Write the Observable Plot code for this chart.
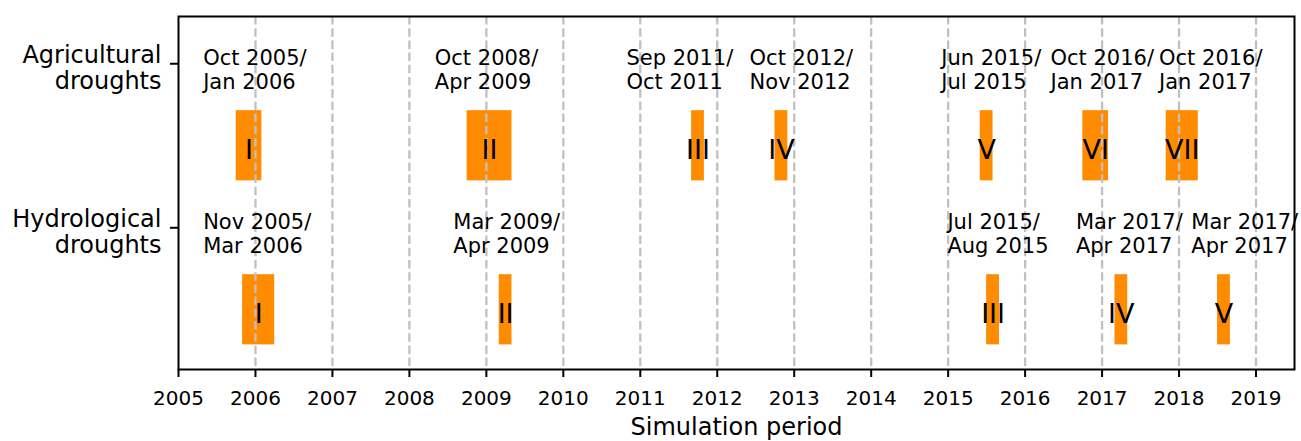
<!DOCTYPE html>
<html>
<head>
<meta charset="utf-8">
<script src="https://cdn.jsdelivr.net/npm/d3@7"></script>
<script src="https://cdn.jsdelivr.net/npm/@observablehq/plot@0.6"></script>
<style>
  html, body { margin: 0; padding: 0; background: white; }
</style>
</head>
<body>
<div id="chart"></div>
<script>
// ---- Data ----
const rowNames = ["Agricultural\ndroughts", "Hydrological\ndroughts"];
const rowValues = [1, 0];

const agriStart = [2005.75, 2008.75, 2011.667, 2012.75, 2015.417, 2016.75, 2017.833];
const agriEnd   = [2006.083, 2009.333, 2011.833, 2012.917, 2015.583, 2017.083, 2018.25];
const agriRoman = ["I", "II", "III", "IV", "V", "VI", "VII"];
const agriDates = ["Oct 2005/\nJan 2006", "Oct 2008/\nApr 2009", "Sep 2011/\nOct 2011", "Oct 2012/\nNov 2012",
                   "Jun 2015/\nJul 2015", "Oct 2016/\nJan 2017", "Oct 2016/\nJan 2017"];
const agriDateX = [2005.32, 2008.33, 2010.82, 2012.42, 2014.91, 2016.33, 2017.74];

const hydroStart = [2005.833, 2009.167, 2015.5, 2017.167, 2018.5];
const hydroEnd   = [2006.25, 2009.333, 2015.667, 2017.333, 2018.667];
const hydroRoman = ["I", "II", "III", "IV", "V"];
const hydroDates = ["Nov 2005/\nMar 2006", "Mar 2009/\nApr 2009", "Jul 2015/\nAug 2015",
                    "Mar 2017/\nApr 2017", "Mar 2017/\nApr 2017"];
const hydroDateX = [2005.32, 2008.57, 2014.99, 2016.66, 2018.16];

const xTicks = d3.range(2005, 2020);
const gridYears = d3.range(2006, 2020);
const xTitle = "Simulation period";

// ---- Build tables ----
const events = [
  ...agriStart.map((s, i) => ({row: rowValues[0], start: s, end: agriEnd[i], roman: agriRoman[i], date: agriDates[i], dateX: agriDateX[i]})),
  ...hydroStart.map((s, i) => ({row: rowValues[1], start: s, end: hydroEnd[i], roman: hydroRoman[i], date: hydroDates[i], dateX: hydroDateX[i]}))
];
const rows = rowNames.map((n, i) => ({name: n, y: rowValues[i]}));

const barOffset = 0.5, barHalf = 0.214;

const chart = Plot.plot({
  width: 1301,
  height: 441,
  marginLeft: 178,
  marginRight: 7,
  marginTop: 16,
  marginBottom: 72,
  style: {fontFamily: "DejaVu Sans", fontSize: "20px", background: "white", color: "black"},
  x: {domain: [2005, 2019.5], label: null},
  y: {domain: [-0.864, 1.288], label: null},
  marks: [
    Plot.rect(events, {
      x1: "start", x2: "end",
      y1: d => d.row - barOffset - barHalf,
      y2: d => d.row - barOffset + barHalf,
      fill: "#ff8c00"
    }),
    Plot.ruleX(gridYears, {stroke: "#c0c0c0", strokeWidth: 2.3, strokeDasharray: "8.5,3.7"}),
    Plot.text(events, {
      x: "dateX", y: "row", text: "date",
      textAnchor: "start", lineAnchor: "top", lineHeight: 1.14,
      dy: -15.4, fontSize: 21, fill: "black"
    }),
    Plot.text(events, {
      x: d => (d.start + d.end) / 2, y: d => d.row - barOffset, text: "roman",
      textAnchor: "middle", lineAnchor: "middle", dy: 5, fontSize: 27, fill: "black"
    }),
    Plot.text(rows, {
      y: "y", text: "name", frameAnchor: "left",
      textAnchor: "end", lineAnchor: "top", lineHeight: 1.08,
      dx: -17, dy: -19, fontSize: 24, fill: "black"
    }),
    Plot.text([xTitle], {
      text: d => d, frameAnchor: "bottom", lineAnchor: "top",
      dy: 48.5, fontSize: 24, fill: "black"
    }),
    Plot.frame({stroke: "black", strokeWidth: 2}),
    Plot.axisX({ticks: xTicks, tickFormat: "d", tickSize: 8, tickPadding: 13, strokeWidth: 2, stroke: "black", fill: "black", fontSize: 20, label: null}),
    Plot.axisY({ticks: rowValues, tickSize: 8, strokeWidth: 2, stroke: "black", fill: "none", label: null})
  ]
});

document.getElementById("chart").appendChild(chart);
</script>
</body>
</html>
